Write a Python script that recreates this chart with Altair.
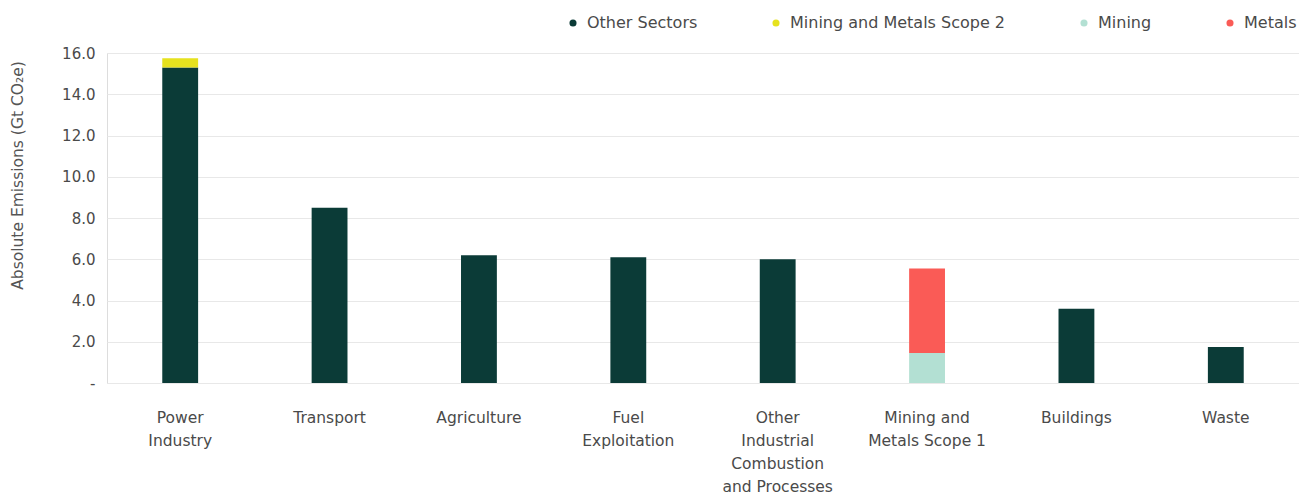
import altair as alt
import pandas as pd

categories = ["Power|Industry", "Transport", "Agriculture", "Fuel|Exploitation",
              "Other|Industrial|Combustion|and Processes", "Mining and|Metals Scope 1",
              "Buildings", "Waste"]
series = ["Other Sectors", "Mining and Metals Scope 2", "Mining", "Metals"]
colors = ["#0b3b37", "#e6e21e", "#b3e0d3", "#fa5b56"]

other_sectors = [15.3, 8.5, 6.2, 6.1, 6.0, 0.0, 3.6, 1.75]
scope2 = [0.45, 0, 0, 0, 0, 0, 0, 0]
mining = [0, 0, 0, 0, 0, 1.45, 0, 0]
metals = [0, 0, 0, 0, 0, 4.1, 0, 0]

rows = []
for vals, s, o in [(other_sectors, series[0], 0), (scope2, series[1], 1),
                   (mining, series[2], 2), (metals, series[3], 3)]:
    for c, v in zip(categories, vals):
        rows.append({"cat": c, "series": s, "value": v, "ord": o})
df = pd.DataFrame(rows)

font = "DejaVu Sans"

chart = alt.Chart(df).mark_bar().encode(
    x=alt.X("cat:N", sort=categories,
            scale=alt.Scale(paddingInner=0.76, paddingOuter=0.37),
            axis=alt.Axis(title=None, labelAngle=0, domain=False, ticks=False,
                          labelExpr="split(datum.label, '|')",
                          labelFontSize=15.5, labelLineHeight=23, labelColor="#4a4a4a",
                          labelPadding=27, labelFont=font, labelLimit=300)),
    y=alt.Y("value:Q", stack="zero",
            scale=alt.Scale(domain=[0, 16], nice=False),
            axis=alt.Axis(values=[0, 2, 4, 6, 8, 10, 12, 14, 16],
                          labelExpr="datum.value == 0 ? '-' : format(datum.value, '.1f')",
                          title="Absolute Emissions (Gt CO₂e)",
                          titleFontSize=15.5, titleFontWeight="normal", titleColor="#555555",
                          titleFont=font, titleX=-90, titleY=122, titleAngle=270,
                          titleAlign="center", titleBaseline="middle",
                          domain=False, ticks=False, labelPadding=12,
                          labelFontSize=15, labelColor="#4a4a4a", labelFont=font,
                          gridColor="#e8e8e8", gridWidth=1)),
    color=alt.Color("series:N", sort=series,
                    scale=alt.Scale(domain=series, range=colors),
                    legend=alt.Legend(title=None, orient="none", legendX=458, legendY=-38,
                                      direction="horizontal", symbolType="circle",
                                      symbolSize=50, columnPadding=70, labelFontSize=16,
                                      labelColor="#4a4a4a", labelFont=font,
                                      labelOffset=6, labelLimit=400)),
    order=alt.Order("ord:Q"),
).properties(
    width=1192, height=330,
    autosize=alt.AutoSizeParams(type="none"),
    padding={"left": 107, "top": 53, "right": 0, "bottom": 112},
).configure_view(stroke=None).configure(background="white")

chart.save("out.html", embed_options={"renderer": "svg", "actions": False})
